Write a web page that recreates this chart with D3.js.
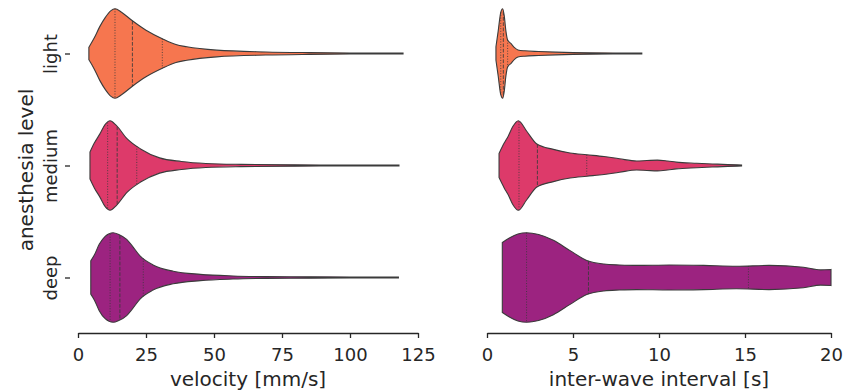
<!DOCTYPE html>
<html>
<head>
<meta charset="utf-8">
<script src="https://cdnjs.cloudflare.com/ajax/libs/d3/7.8.5/d3.min.js"></script>
<style>
  body { margin: 0; background: #fff; }
  svg text { font-family: "DejaVu Sans", sans-serif; fill: #262626; }
</style>
</head>
<body>
<svg id="chart" width="844" height="391"></svg>
<script>
var levels = ["light", "medium", "deep"];
var levelColors = ["#f6764f", "#dd3a6a", "#9c2380"];

var velocityTicks = [0, 25, 50, 75, 100, 125];
var intervalTicks = [0, 5, 10, 15, 20];

// violin outlines: [value, relative half width]
var velocityLight = [[4, 0.14], [6, 0.35], [8, 0.6], [10, 0.8], [12, 0.95], [13.6, 1.0], [16, 0.92], [20, 0.73],
  [25, 0.52], [31, 0.33], [36, 0.2], [40, 0.15], [51, 0.075], [69, 0.035], [85, 0.02], [100, 0.012], [119.5, 0.008]];
var velocityMedium = [[4.4, 0.3], [6, 0.5], [8, 0.7], [10, 0.92], [11.8, 1.0], [14, 0.9], [18, 0.6], [23, 0.37],
  [30, 0.17], [38, 0.09], [47, 0.045], [60, 0.025], [80, 0.015], [100, 0.01], [118, 0.008]];
var velocityDeep = [[4.7, 0.37], [6, 0.5], [7.8, 0.74], [10, 0.92], [12.9, 1.0], [15, 0.96], [17.9, 0.85], [20, 0.7],
  [22.8, 0.48], [27.6, 0.28], [35, 0.14], [45, 0.07], [57, 0.035], [69, 0.02], [85, 0.014], [100, 0.01], [117.8, 0.008]];

var intervalLight = [[0.52, 0.15], [0.65, 0.5], [0.8, 0.92], [0.91, 1.0], [1.0, 0.85], [1.1, 0.5], [1.2, 0.3],
  [1.4, 0.22], [1.6, 0.13], [1.8, 0.08], [2.2, 0.06], [3, 0.045], [4, 0.03], [5, 0.02], [6, 0.015], [7.5, 0.012], [9.0, 0.01]];
var intervalMedium = [[0.7, 0.27], [1.0, 0.5], [1.24, 0.66], [1.5, 0.87], [1.82, 1.0], [2.3, 0.77], [2.9, 0.48],
  [3.86, 0.36], [4.83, 0.28], [5.8, 0.24], [6.8, 0.2], [7.7, 0.15], [8.7, 0.1], [9.3, 0.11], [9.9, 0.12], [10.5, 0.1],
  [11.0, 0.075], [12.2, 0.05], [13.1, 0.035], [14.0, 0.02], [14.8, 0.01]];
var intervalDeep = [[0.89, 0.78], [1.3, 0.88], [1.8, 0.97], [2.3, 1.0], [3.0, 0.96], [3.86, 0.83], [4.83, 0.6],
  [5.8, 0.38], [6.8, 0.3], [7.7, 0.28], [8.7, 0.27], [10.6, 0.28], [12.6, 0.27], [14.5, 0.25], [16.4, 0.27],
  [18.4, 0.23], [19.4, 0.17], [20.0, 0.18]];

// 25%, 50%, 75%
var velocityQuartiles = [[13.6, 20, 31], [10.9, 14.4, 21.6], [11.8, 15.4, 24]];
var intervalQuartiles = [[0.8, 0.95, 1.2], [1.86, 2.93, 5.8], [2.3, 5.9, 15.2]];

var svg = d3.select("#chart");
var axisY = 333;
var halfWidth = 44.8;

var y = d3.scalePoint().domain(levels).range([53.5, 277.5]);
var w = d3.scaleLinear().domain([0, 1]).range([0, halfWidth]);

var panels = [
  {
    x: d3.scaleLinear().domain([0, 125]).range([78, 418]),
    ticks: velocityTicks,
    label: "velocity [mm/s]",
    violins: [velocityLight, velocityMedium, velocityDeep],
    quartiles: velocityQuartiles,
    showY: true
  },
  {
    x: d3.scaleLinear().domain([0, 20]).range([487, 831]),
    ticks: intervalTicks,
    label: "inter-wave interval [s]",
    violins: [intervalLight, intervalMedium, intervalDeep],
    quartiles: intervalQuartiles,
    showY: false
  }
];

/**
 * Draw one panel: violins, quartile lines and the trimmed x axis
 */
function drawPanel(panel) {
  var x = panel.x;
  var g = svg.append("g");

  panel.violins.forEach(function (profile, i) {
    var cy = y(levels[i]);
    var area = d3.area()
      .x(function (d) { return x(d[0]); })
      .y0(function (d) { return cy - w(d[1]); })
      .y1(function (d) { return cy + w(d[1]); })
      .curve(d3.curveMonotoneX);

    g.append("path")
      .datum(profile)
      .attr("d", area)
      .attr("fill", levelColors[i])
      .attr("stroke", "#3b3b3b")
      .attr("stroke-width", 1.1);

    // width of the violin at a given value
    var widthAt = d3.scaleLinear()
      .domain(profile.map(function (d) { return d[0]; }))
      .range(profile.map(function (d) { return d[1]; }));

    g.selectAll(null)
      .data(panel.quartiles[i])
      .enter()
      .append("line")
      .attr("x1", function (q) { return x(q); })
      .attr("x2", function (q) { return x(q); })
      .attr("y1", function (q) { return cy - w(widthAt(q)); })
      .attr("y2", function (q) { return cy + w(widthAt(q)); })
      .attr("stroke", "#3b3b3b")
      .attr("stroke-opacity", 0.85)
      .attr("stroke-width", 1)
      .attr("stroke-dasharray", function (q, k) { return k === 1 ? "3.7,1.6" : "1,1.65"; });
  });

  var xAxis = g.append("g")
    .attr("transform", "translate(0," + axisY + ")")
    .call(d3.axisBottom(x).tickValues(panel.ticks).tickSize(5).tickPadding(10).tickSizeOuter(0));
  xAxis.select(".domain").attr("stroke", "#262626").attr("stroke-width", 1.3);
  xAxis.selectAll(".tick line").attr("stroke", "#262626").attr("stroke-width", 1.3);
  xAxis.selectAll("text").attr("font-size", 18).attr("font-family", "DejaVu Sans").attr("fill", "#262626");

  g.append("text")
    .attr("x", (x.range()[0] + x.range()[1]) / 2)
    .attr("y", 386)
    .attr("text-anchor", "middle")
    .attr("font-size", 20)
    .text(panel.label);

  if (panel.showY) {
    var yAxis = g.append("g")
      .attr("transform", "translate(70,0)")
      .call(d3.axisLeft(y).tickSize(5));
    yAxis.select(".domain").remove();
    yAxis.selectAll(".tick line").attr("stroke", "#262626").attr("stroke-width", 1.3);
    yAxis.selectAll("text")
      .attr("transform", "rotate(-90)")
      .attr("x", 0)
      .attr("y", -13)
      .attr("dy", null)
      .attr("text-anchor", "middle")
      .attr("font-size", 18)
      .attr("font-family", "DejaVu Sans")
      .attr("fill", "#262626");

    g.append("text")
      .attr("transform", "translate(33,170) rotate(-90)")
      .attr("text-anchor", "middle")
      .attr("font-size", 20)
      .text("anesthesia level");
  }
}

panels.forEach(drawPanel);
</script>
</body>
</html>
